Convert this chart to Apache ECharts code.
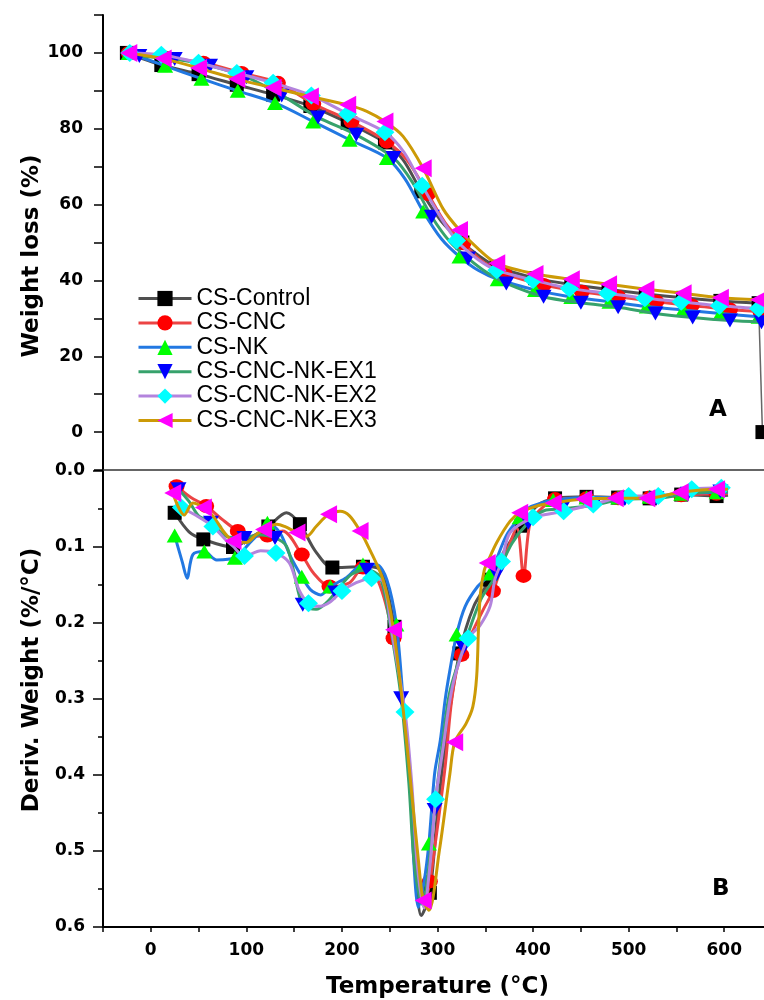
<!DOCTYPE html>
<html>
<head>
<meta charset="utf-8">
<script src="https://cdn.jsdelivr.net/npm/echarts@6/dist/echarts.min.js"></script>
<style>
  html, body { margin: 0; padding: 0; background: #ffffff; }
  #chart { width: 764px; height: 1000px; }
</style>
</head>
<body>
<div id="chart"></div>
<script>
// ---- axis ticks ----
const tempTicks = [0, 100, 200, 300, 400, 500, 600];          // °C
const weightTicks = [0, 20, 40, 60, 80, 100];                  // %
const derivTicks = [0.0, 0.1, 0.2, 0.3, 0.4, 0.5, 0.6];        // %/°C

const sampleNames = ['CS-Control', 'CS-CNC', 'CS-NK', 'CS-CNC-NK-EX1', 'CS-CNC-NK-EX2', 'CS-CNC-NK-EX3'];

// ---- TGA: weight (%) vs temperature (°C) ----
// *Marks: points drawn with a symbol; *Path: extra points on the same curve
const tgaControlMarks = [[-25,100],[11,96.8],[50,94.4],[90,91.6],[128,89.0],[167,86.0],[206,81.6],[245,76.4],[283,63.5],[326,50.0],[362,43.6],[402,40.6],[440,38.9],[479,37.6],[518,36.4],[557,35.4],[596,34.6],[636,34.0],[640,0]];
const tgaControlPath  = [[264,71.8],[304,55.6],[344,46.4]];
const tgaCncMarks = [[-23,100],[16,98.7],[55,97.4],[95,94.7],[133,92.1],[170,86.6],[210,81.9],[247,76.6],[290,62.8],[327,49.8],[370,41.8],[411,38.8],[451,37.0],[489,35.7],[529,34.4],[566,33.4],[606,32.3],[638,31.7]];
const tgaCncPath  = [[268,71.8],[308,55.2],[348,44.8]];
const tgaNkMarks = [[-23,100],[15,96.6],[53,93.2],[91,90.0],[130,86.8],[170,81.9],[208,77.1],[247,72.3],[285,58.2],[323,46.3],[363,40.3],[402,37.5],[440,35.6],[480,34.4],[519,33.1],[557,32.2],[596,31.3],[636,30.4]];
const tgaNkPath  = [[266,66.8],[304,51.0],[343,42.6]];
const tgaEx1Marks = [[-12,99.2],[25,98.4],[62,96.6],[100,93.6],[137,88.8],[175,83.0],[215,78.4],[254,72.3],[294,56.8],[332,45.8],[372,39.2],[411,35.7],[450,34.1],[489,32.9],[528,31.3],[567,30.2],[606,29.4],[639,29.0]];
const tgaEx1Path  = [[-23,100],[274,65.8],[313,50.2],[352,42.0]];
const tgaEx2Marks = [[-22,100],[11,99.5],[50,97.4],[90,94.7],[128,92.1],[168,88.8],[206,83.9],[245,79.1],[284,65.0],[320,50.5],[362,42.7],[400,40.1],[438,37.9],[478,36.6],[517,35.3],[555,34.4],[595,33.3],[636,32.6]];
const tgaEx2Path  = [[265,73.8],[302,57.2],[342,45.6]];
const tgaEx3Marks = [[-23,100],[13,98.5],[50,96.0],[90,93.1],[128,90.8],[167,88.5],[206,86.3],[245,81.9],[285,69.6],[323,53.3],[362,44.5],[402,41.7],[440,40.3],[479,39.0],[518,37.7],[557,36.6],[596,35.4],[636,34.9]];
const tgaEx3Path  = [[226,84.6],[264,78.0],[306,58.8],[344,48.0]];

// ---- DTG: derivative weight (%/°C) vs temperature (°C) ----
const dtgControlMarks = [[25,0.055],[55,0.090],[86,0.100],[123,0.073],[156,0.070],[190,0.127],[222,0.126],[255,0.205],[292,0.555],[323,0.240],[355,0.143],[388,0.072],[423,0.036],[456,0.034],[489,0.035],[522,0.036],[555,0.031],[592,0.033]];
const dtgControlPath  = [[40,0.080],[104,0.088],[142,0.055],[172,0.105],[238,0.128],[264,0.310],[271,0.410],[277,0.520],[283,0.585],[300,0.450],[310,0.340],[338,0.178],[370,0.105],[405,0.045],[604,0.032]];
const dtgCncMarks = [[27,0.020],[58,0.046],[91,0.079],[122,0.085],[158,0.110],[187,0.152],[222,0.127],[254,0.220],[292,0.540],[325,0.242],[358,0.158],[390,0.138],[423,0.037],[456,0.036],[489,0.036],[522,0.035],[555,0.032],[592,0.030]];
const dtgCncPath  = [[42,0.035],[75,0.064],[105,0.086],[138,0.079],[170,0.134],[208,0.147],[238,0.145],[264,0.310],[271,0.405],[278,0.510],[287,0.565],[300,0.468],[308,0.389],[314,0.310],[320,0.262],[334,0.218],[348,0.182],[372,0.108],[383,0.075],[397,0.068],[410,0.048],[604,0.030]];
const dtgNkMarks = [[25,0.085],[56,0.106],[88,0.114],[122,0.068],[158,0.139],[188,0.152],[222,0.123],[257,0.202],[291,0.490],[320,0.215],[355,0.135],[386,0.061],[421,0.038],[456,0.035],[489,0.035],[522,0.034],[555,0.030],[592,0.028]];
const dtgNkPath  = [[33,0.120],[38,0.141],[44,0.110],[69,0.117],[104,0.094],[114,0.081],[135,0.081],[146,0.112],[167,0.156],[178,0.163],[205,0.140],[236,0.123],[247,0.143],[264,0.300],[271,0.400],[275,0.510],[280,0.574],[286,0.540],[297,0.398],[303,0.354],[308,0.301],[313,0.262],[329,0.178],[342,0.152],[372,0.085],[396,0.048],[414,0.040],[604,0.028]];
const dtgEx1Marks = [[29,0.024],[63,0.068],[98,0.088],[130,0.088],[159,0.176],[193,0.160],[226,0.130],[262,0.299],[297,0.446],[327,0.233],[362,0.136],[395,0.068],[430,0.050],[463,0.045],[496,0.037],[529,0.036],[562,0.030],[596,0.027]];
const dtgEx1Path  = [[40,0.040],[50,0.059],[79,0.086],[112,0.084],[142,0.099],[150,0.134],[173,0.182],[185,0.172],[210,0.136],[240,0.140],[250,0.200],[270,0.410],[276,0.520],[284,0.570],[290,0.530],[305,0.360],[313,0.290],[345,0.170],[378,0.095],[412,0.052],[604,0.027]];
const dtgEx2Marks = [[32,0.048],[65,0.073],[98,0.112],[131,0.108],[165,0.174],[200,0.158],[231,0.141],[266,0.317],[298,0.432],[332,0.220],[367,0.119],[400,0.061],[432,0.053],[463,0.044],[500,0.033],[531,0.033],[566,0.024],[597,0.022]];
const dtgEx2Path  = [[48,0.059],[78,0.090],[86,0.099],[115,0.105],[145,0.121],[155,0.156],[177,0.178],[188,0.172],[215,0.147],[243,0.145],[252,0.210],[273,0.410],[279,0.520],[286,0.575],[292,0.520],[306,0.363],[313,0.301],[320,0.262],[344,0.204],[355,0.178],[360,0.143],[376,0.081],[415,0.057],[604,0.022]];
const dtgEx3Marks = [[23,0.029],[55,0.048],[86,0.092],[118,0.077],[153,0.081],[186,0.057],[219,0.079],[254,0.209],[285,0.565],[318,0.357],[352,0.121],[386,0.055],[421,0.042],[453,0.037],[486,0.036],[519,0.036],[554,0.028],[592,0.024]];
const dtgEx3Path  = [[35,0.058],[44,0.042],[65,0.059],[77,0.081],[100,0.094],[110,0.084],[132,0.070],[140,0.073],[163,0.086],[173,0.073],[198,0.053],[208,0.059],[229,0.103],[243,0.143],[266,0.336],[273,0.424],[280,0.512],[291,0.578],[302,0.499],[313,0.398],[330,0.332],[337,0.310],[341,0.270],[343,0.204],[345,0.160],[349,0.130],[362,0.094],[376,0.066],[404,0.046],[604,0.024]];

// ---- styling per sample ----
const lineColors = ['#4f4f4f', '#ec4444', '#2278e2', '#37a26c', '#b384dd', '#cc9a06'];
const markColors = ['#000000', '#ff0000', '#00ff00', '#0000ff', '#00ffff', '#ff00ff'];
const markShapes = ['rect', 'circle', 'triangle', 'path://M0,0L2,0L1,2Z', 'diamond', 'path://M2,0L2,2L0,1Z'];
const markSizes  = [14, [16, 14], [16, 14], [16, 14], [19, 18], [17, 18]];

const tgaMarks = [tgaControlMarks, tgaCncMarks, tgaNkMarks, tgaEx1Marks, tgaEx2Marks, tgaEx3Marks];
const tgaPaths = [tgaControlPath, tgaCncPath, tgaNkPath, tgaEx1Path, tgaEx2Path, tgaEx3Path];
const dtgMarks = [dtgControlMarks, dtgCncMarks, dtgNkMarks, dtgEx1Marks, dtgEx2Marks, dtgEx3Marks];
const dtgPaths = [dtgControlPath, dtgCncPath, dtgNkPath, dtgEx1Path, dtgEx2Path, dtgEx3Path];

function curve(marks, path) {
  return marks.concat(path).sort((a, b) => a[0] - b[0]);
}

const boldFont = { fontFamily: 'DejaVu Sans', fontWeight: 'bold', color: '#000' };

const series = [];
function addSample(i, grid, marks, path) {
  // the final sudden drop of the control run is drawn as a thin straight segment
  const isDrop = grid === 0 && i === 0;
  const body = isDrop ? marks.slice(0, -1) : marks;
  series.push({
    type: 'line', name: sampleNames[i], xAxisIndex: grid, yAxisIndex: grid,
    data: curve(body, path), smooth: 0.3,
    showSymbol: false, symbol: markShapes[i], symbolSize: markSizes[i],
    lineStyle: { color: lineColors[i], width: 3 },
    itemStyle: { color: markColors[i] },
    z: 10 + 2 * i, silent: true
  });
  if (isDrop) {
    series.push({
      type: 'line', name: sampleNames[i], xAxisIndex: 0, yAxisIndex: 0,
      data: marks.slice(-2), showSymbol: false, smooth: false,
      symbol: markShapes[i],
      lineStyle: { color: '#666666', width: 1.5 }, z: 9, silent: true
    });
  }
  series.push({
    type: 'scatter', name: sampleNames[i], xAxisIndex: grid, yAxisIndex: grid,
    data: marks, symbol: markShapes[i], symbolSize: markSizes[i],
    itemStyle: { color: markColors[i], opacity: 1 },
    z: 11 + 2 * i, silent: true
  });
}
for (let i = 0; i < 6; i++) addSample(i, 0, tgaMarks[i], tgaPaths[i]);
for (let i = 0; i < 6; i++) addSample(i, 1, dtgMarks[i], dtgPaths[i]);

const chart = echarts.init(document.getElementById('chart'), null, { renderer: 'canvas' });
chart.setOption({
  animation: false,
  backgroundColor: '#ffffff',
  grid: [
    { left: 103, right: -8, top: 15, height: 455, outerBoundsMode: 'none', containLabel: false },
    { left: 103, right: -8, top: 471, height: 456, outerBoundsMode: 'none', containLabel: false }
  ],
  xAxis: [
    {
      gridIndex: 0, type: 'value', min: -50, max: 650, interval: 50,
      axisLine: { show: true, onZero: false, lineStyle: { color: '#333', width: 1.5 } },
      axisTick: { show: false }, axisLabel: { show: false }, splitLine: { show: false }
    },
    {
      gridIndex: 1, type: 'value', min: -50, max: 650, interval: 50,
      name: 'Temperature (°C)', nameLocation: 'middle', nameGap: 49, nameMoveOverlap: false,
      nameTextStyle: Object.assign({ fontSize: 23 }, boldFont),
      axisLine: { show: true, onZero: false, lineStyle: { color: '#000', width: 2 } },
      axisTick: { show: true, inside: false, length: 5, lineStyle: { color: '#000', width: 1.5 } },
      axisLabel: Object.assign({
        margin: 15, fontSize: 17,
        formatter: v => tempTicks.includes(v) ? String(v) : ''
      }, boldFont),
      splitLine: { show: false }
    }
  ],
  yAxis: [
    {
      gridIndex: 0, type: 'value', min: -10, max: 110, interval: 10,
      axisLine: { show: true, onZero: false, lineStyle: { color: '#000', width: 2 } },
      axisTick: { show: true, inside: false, length: 9, lineStyle: { color: '#000', width: 1.5 } },
      axisLabel: Object.assign({
        margin: 20, fontSize: 17,
        formatter: v => weightTicks.includes(v) ? String(v) : ''
      }, boldFont),
      splitLine: { show: false }
    },
    {
      gridIndex: 1, type: 'value', inverse: true, min: 0, max: 0.6, interval: 0.1,
      axisLine: { show: true, onZero: false, lineStyle: { color: '#000', width: 2 } },
      axisTick: { show: true, inside: false, length: 10, lineStyle: { color: '#000', width: 1.5 } },
      minorTick: { show: true, splitNumber: 2, length: 5, lineStyle: { color: '#000', width: 1.5 } },
      axisLabel: Object.assign({
        margin: 18, fontSize: 17,
        formatter: v => derivTicks.some(t => Math.abs(t - v) < 1e-6) ? v.toFixed(1) : ''
      }, boldFont),
      splitLine: { show: false }, minorSplitLine: { show: false }
    }
  ],
  legend: {
    data: sampleNames, orient: 'vertical', left: 137, top: 287, padding: 0,
    itemWidth: 53, itemHeight: 19, itemGap: 1.4,
    selectedMode: false,
    itemStyle: { borderWidth: 0 },
    lineStyle: { width: 3 },
    textStyle: { fontFamily: 'Liberation Sans', fontSize: 23, color: '#000' }
  },
  graphic: [
    // vertical axis titles
    { type: 'text', x: 32, y: 256, rotation: Math.PI / 2,
      style: { text: 'Weight loss (%)', font: 'bold 23px "DejaVu Sans"', fill: '#000', align: 'center', verticalAlign: 'middle' } },
    { type: 'text', x: 32, y: 680, rotation: Math.PI / 2,
      style: { text: 'Deriv. Weight (%/°C)', font: 'bold 23px "DejaVu Sans"', fill: '#000', align: 'center', verticalAlign: 'middle' } },
    // panel letters
    { type: 'text', left: 709, top: 399, style: { text: 'A', font: 'bold 23px "DejaVu Sans"', fill: '#000' } },
    { type: 'text', left: 712, top: 878, style: { text: 'B', font: 'bold 23px "DejaVu Sans"', fill: '#000' } }
  ],
  series: series
});
</script>
</body>
</html>
